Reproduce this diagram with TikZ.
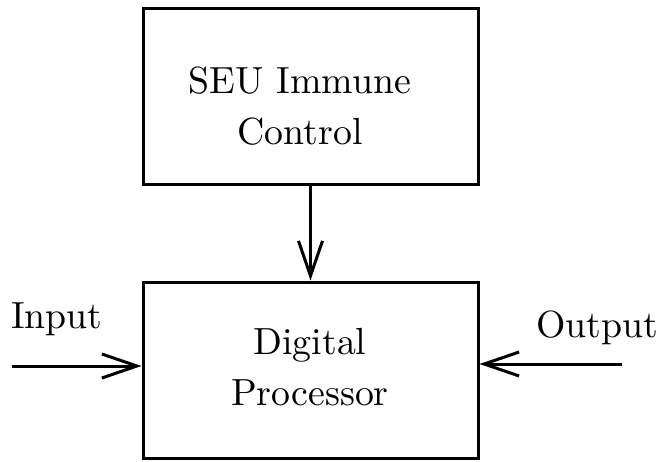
\documentclass[tikz,border=0pt]{standalone}
\usetikzlibrary{arrows.meta}
\begin{document}
\begin{tikzpicture}[x=1pt,y=-1pt,
  box/.style={draw,line width=3pt,minimum width=335pt,minimum height=176pt,inner sep=0pt},
  lbl/.style={scale=3.78,align=center,font=\fontsize{10}{13.5}\selectfont,inner sep=0pt},
  arr/.style={line width=3pt,-{Straight Barb[length=35pt,width=24pt,line width=3pt]}}]
\useasboundingbox (0,0) rectangle (662,461);
\node[box] (ctrl) at (310.5,96.5) {};
\node[box] (proc) at (310.5,370) {};
\node[lbl] (ctrltxt) at (300,106) {SEU Immune\\Control};
\node[lbl] (proctxt) at (310,367) {Digital\\Processor};
\node[lbl,anchor=base] (intxt) at (57,328) {Input};
\node[lbl,anchor=base] (outtxt) at (597,337) {Output};
\coordinate (inS) at (12,366);
\coordinate (outS) at (622,364);
\draw[arr] (ctrl.south) -- (proc.north);
\draw[arr] (inS) -- (proc.west |- inS);
\draw[arr] (outS) -- (proc.east |- outS);
\end{tikzpicture}
\end{document}
